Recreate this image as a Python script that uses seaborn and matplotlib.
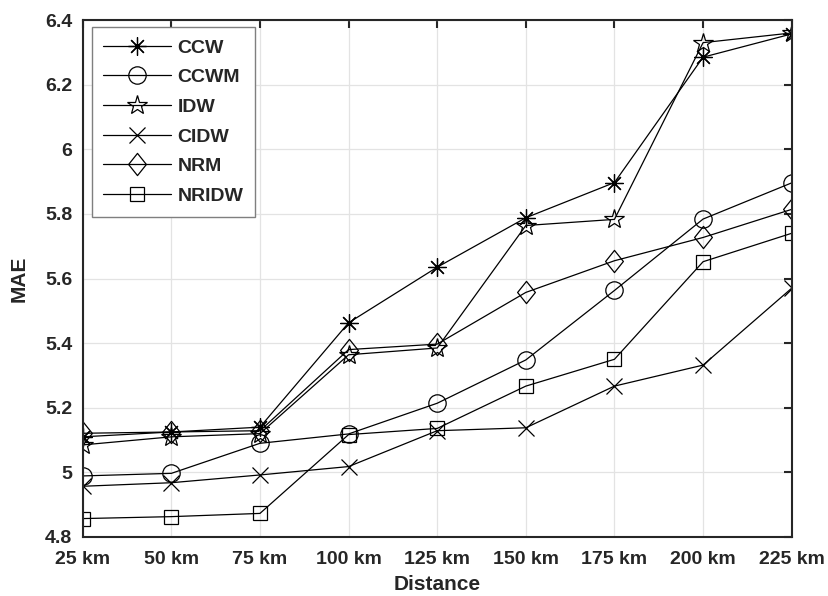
import matplotlib
matplotlib.use("Agg")
import matplotlib.pyplot as plt
from matplotlib.path import Path
import seaborn as sns
import pandas as pd

distances = [25, 50, 75, 100, 125, 150, 175, 200, 225]
tick_labels = ["25 km", "50 km", "75 km", "100 km", "125 km", "150 km", "175 km", "200 km", "225 km"]

ccw   = [5.110, 5.125, 5.140, 5.463, 5.635, 5.788, 5.897, 6.285, 6.357]
ccwm  = [4.989, 4.997, 5.090, 5.119, 5.214, 5.348, 5.563, 5.784, 5.896]
idw   = [5.085, 5.110, 5.120, 5.364, 5.385, 5.764, 5.783, 6.330, 6.360]
cidw  = [4.957, 4.968, 4.992, 5.018, 5.129, 5.138, 5.267, 5.332, 5.570]
nrm   = [5.121, 5.125, 5.129, 5.380, 5.397, 5.557, 5.655, 5.727, 5.814]
nridw = [4.857, 4.863, 4.873, 5.117, 5.136, 5.267, 5.350, 5.652, 5.740]

series_names = ["CCW", "CCWM", "IDW", "CIDW", "NRM", "NRIDW"]
series_values = [ccw, ccwm, idw, cidw, nrm, nridw]

sns.set_theme(style="white")
plt.rcParams['font.family'] = ['Liberation Sans', 'DejaVu Sans']

fig = plt.figure(figsize=(8.29, 5.96), dpi=100)
ax = fig.add_axes([0.0998, 0.099, 0.8552, 0.8674])

diamond = Path([(0, 1), (0.8, 0), (0, -1), (-0.8, 0), (0, 1)],
               [Path.MOVETO, Path.LINETO, Path.LINETO, Path.LINETO, Path.CLOSEPOLY])

mew = 0.9
markers = {
    "CCW": dict(marker=(8, 2, 0), markersize=13, markeredgewidth=mew),
    "CCWM": dict(marker="o", markersize=12.5, markeredgewidth=mew, markerfacecolor="none"),
    "IDW": dict(marker="*", markersize=15, markeredgewidth=mew, markerfacecolor="none"),
    "CIDW": dict(marker="x", markersize=12, markeredgewidth=mew),
    "NRM": dict(marker=diamond, markersize=16, markeredgewidth=mew, markerfacecolor="none"),
    "NRIDW": dict(marker="s", markersize=9.5, markeredgewidth=mew, markerfacecolor="none"),
}

for name, vals in zip(series_names, series_values):
    df = pd.DataFrame({"Distance": distances, "MAE": vals})
    sns.lineplot(data=df, x="Distance", y="MAE", ax=ax, color="black",
                 linewidth=0.9, label=name, markeredgecolor="black", **markers[name])

ax.set_xlim(25, 225)
ax.set_ylim(4.8, 6.4)
ax.set_xticks(distances)
ax.set_xticklabels(tick_labels)
yt = [4.8, 5.0, 5.2, 5.4, 5.6, 5.8, 6.0, 6.2, 6.4]
ax.set_yticks(yt)
ax.set_yticklabels(["4.8", "5", "5.2", "5.4", "5.6", "5.8", "6", "6.2", "6.4"])

ax.grid(True, color="#e3e3e3", linewidth=0.9)
for s in ax.spines.values():
    s.set_visible(True)
    s.set_color("#262626")
    s.set_linewidth(1.5)

ax.tick_params(axis="both", direction="in", length=6, width=1.5, color="#262626",
               top=True, right=True, labelsize=14, labelcolor="#262626")
ax.tick_params(axis="x", pad=10)
ax.tick_params(axis="y", pad=7.5)
for lab in ax.get_xticklabels() + ax.get_yticklabels():
    lab.set_fontweight("bold")

ax.set_xlabel("Distance", fontsize=15, fontweight="bold", color="#262626", labelpad=5)
ax.set_ylabel("MAE", fontsize=15, fontweight="bold", color="#262626", labelpad=12)

leg = ax.legend(loc="upper left", bbox_to_anchor=(0.0127, 0.986), frameon=True, fancybox=False,
                edgecolor="#7f7f7f", framealpha=1, fontsize=14, handlelength=3.5,
                labelspacing=0.62, borderpad=0.6, handletextpad=0.3, borderaxespad=0)
leg.get_frame().set_linewidth(1.0)
for t in leg.get_texts():
    t.set_fontweight("bold")
    t.set_color("#262626")

fig.savefig("out.png", dpi=100)
